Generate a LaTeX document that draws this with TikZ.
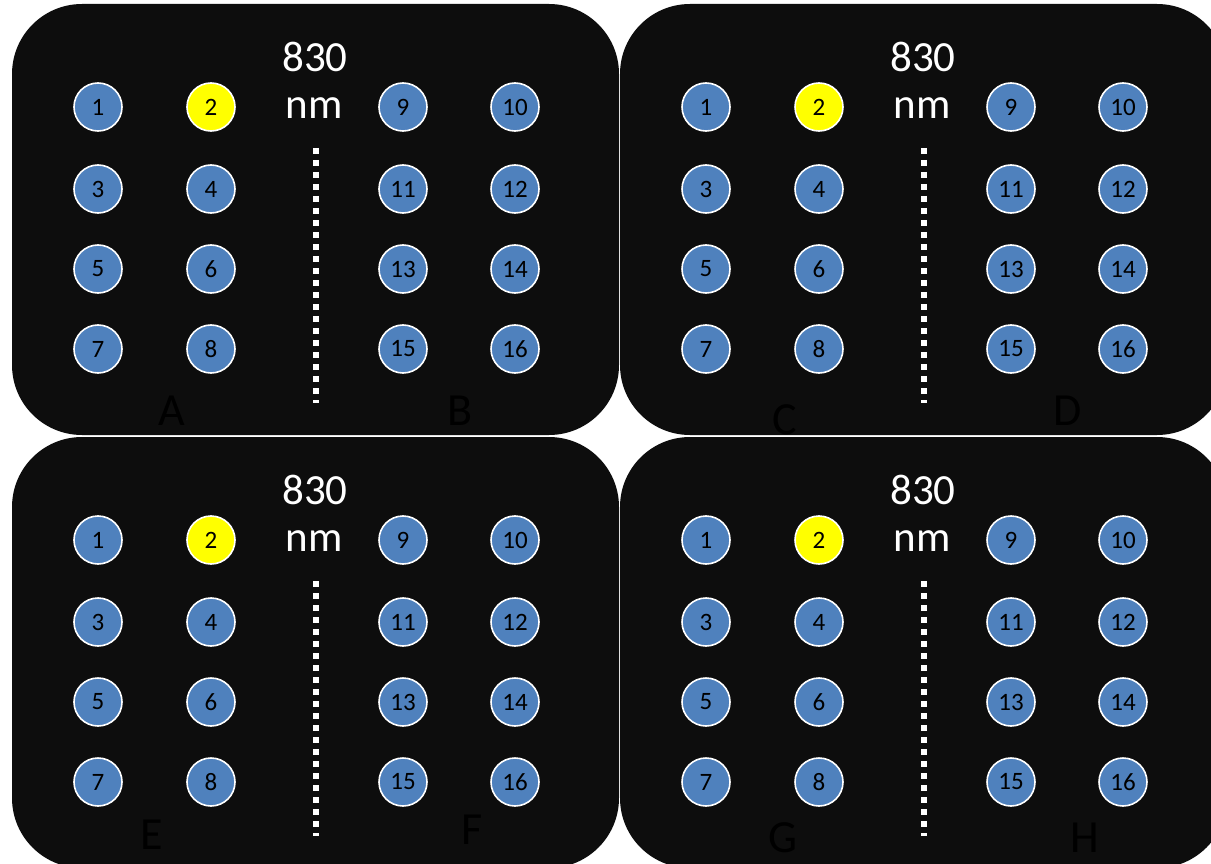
\documentclass[tikz,border=0pt]{standalone}
\usepackage{fontspec}
\setmainfont{Carlito}
\definecolor{panelbg}{HTML}{0D0D0D}
\definecolor{dotblue}{HTML}{4F81BD}
\definecolor{dotyellow}{HTML}{FFFF00}
\tikzset{
  panel/.style={fill=panelbg, draw=none, rounded corners=70pt},
  opt/.style={circle, draw=white, line width=1.6pt, fill=dotblue, minimum size=48pt, inner sep=0pt, font=\fontsize{25}{27}\selectfont, text=black},
  src/.style={opt, fill=dotyellow},
  wl/.style={text=white, font=\fontsize{43}{46}\selectfont, inner sep=0pt},
  lbl/.style={text=black, font=\fontsize{46}{50}\selectfont, inner sep=0pt},
  divider/.style={white, line width=6pt, dash pattern=on 6pt off 6pt}
}
\begin{document}
\begin{tikzpicture}[x=1pt, y=-1pt]
\clip (0,0) rectangle (1211,864);
\fill[white] (0,0) rectangle (1211,864);
\foreach \ox/\oy/\la/\lax/\lay/\lb/\lbx/\lby [count=\p] in
  {0/0/A/172/411/B/460/411,
   608/0/C/785/420/D/1068/411,
   0/433/E/152/402/F/472/397,
   608/433/G/783/405/H/1085/405} {
  \begin{scope}[shift={(\ox,\oy)}]
    \fill[panel] (12,4) rectangle (619,435);
    \node[wl] (w\p) at (315,57) {830};
    \node[wl] (n\p) at (314,108) {nm};
    \coordinate (dtop\p) at (316,148);
    \coordinate (dbot\p) at (316,403);
    \draw[divider] (dtop\p) -- (dbot\p);
    \node[opt] (p\p-1) at (98,107) {1};
    \node[src] (p\p-2) at (211,107) {2};
    \node[opt] (p\p-3) at (98,189) {3};
    \node[opt] (p\p-4) at (211,189) {4};
    \node[opt] (p\p-5) at (98,269) {5};
    \node[opt] (p\p-6) at (211,269) {6};
    \node[opt] (p\p-7) at (98,349) {7};
    \node[opt] (p\p-8) at (211,349) {8};
    \node[opt] (p\p-9) at (403,107) {9};
    \node[opt] (p\p-10) at (515,107) {10};
    \node[opt] (p\p-11) at (403,189) {11};
    \node[opt] (p\p-12) at (515,189) {12};
    \node[opt] (p\p-13) at (403,269) {13};
    \node[opt] (p\p-14) at (515,269) {14};
    \node[opt] (p\p-15) at (403,349) {15};
    \node[opt] (p\p-16) at (515,349) {16};
  \end{scope}
  \node[lbl] (la\p) at (\lax,\lay+\oy) {\la};
  \node[lbl] (lb\p) at (\lbx,\lby+\oy) {\lb};
}
\end{tikzpicture}
\end{document}
